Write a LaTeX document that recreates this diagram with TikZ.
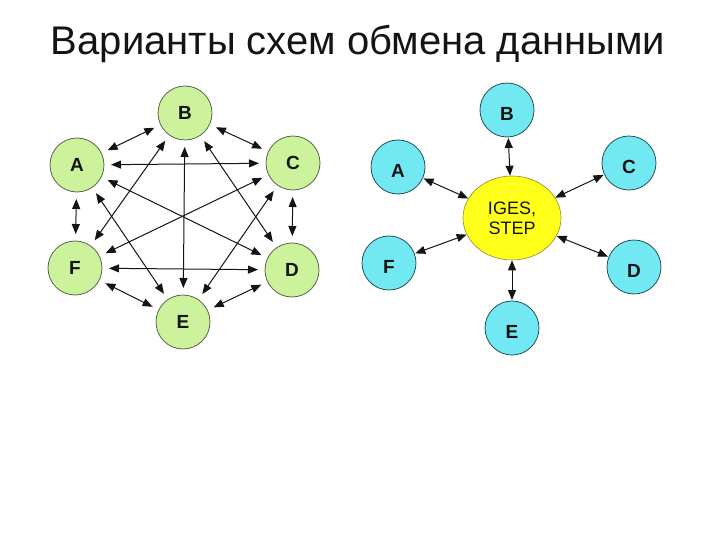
\documentclass[tikz,border=0pt]{standalone}
\usepackage{fontspec}
\setmainfont{Liberation Sans}
\usetikzlibrary{arrows.meta,shapes.geometric}
\definecolor{sxGreen}{HTML}{CCF29C}
\definecolor{sxGreenLine}{HTML}{56664A}
\definecolor{sxCyan}{HTML}{72E9F2}
\definecolor{sxCyanLine}{HTML}{24505A}
\definecolor{sxYellow}{HTML}{FFFF1A}
\definecolor{sxHubLine}{HTML}{8A8A30}
\definecolor{sxInk}{HTML}{141414}
\tikzset{
  sx diagram/.style={x=1pt, y=-1pt, text=sxInk,
    line cap=round, line join=round},
  sx title/.style={font=\fontsize{40}{44}\selectfont, anchor=base},
  sx station/.style={circle, minimum size=54pt, inner sep=0pt,
    line width=0.8pt, font=\bfseries\fontsize{19}{22}\selectfont},
  sx mesh/.style={sx station, draw=sxGreenLine, fill=sxGreen, outer sep=7pt},
  sx star/.style={sx station, draw=sxCyanLine, fill=sxCyan, outer sep=1pt,
    text height=21pt, text depth=0pt},
  sx hub/.style={ellipse, draw=sxHubLine, fill=sxYellow, line width=0.6pt,
    minimum width=98pt, minimum height=84pt, inner sep=0pt, align=center,
    font=\fontsize{18}{20}\selectfont},
  sx link/.style={{Triangle[length=10pt,width=8pt]}-{Triangle[length=10pt,width=8pt]},
    draw=sxInk, line width=1pt}
}
\begin{document}
\begin{tikzpicture}[sx diagram]
\useasboundingbox (0,0) rectangle (720,540);
\node[sx title] (title) at (358,55) {Варианты схем обмена данными};
% every station linked with every other one
\node[sx mesh] (mB) at (185,113) {B};
\node[sx mesh] (mA) at (77,165) {A};
\node[sx mesh] (mC) at (293,163) {C};
\node[sx mesh] (mF) at (75,268) {F};
\node[sx mesh] (mD) at (292,270) {D};
\node[sx mesh] (mE) at (183,322) {E};
\foreach \a/\b in {A/B,A/C,A/D,A/E,A/F,B/C,B/D,B/E,B/F,C/D,C/E,C/F,D/E,D/F,E/F}
  \draw[sx link] (m\a) -- (m\b);
% every station linked through the neutral format
\node[sx hub] (hub) at (512,218) {IGES,\\STEP};
\node[sx star] (sB) at (507,110) {B};
\node[sx star] (sA) at (398,167) {A};
\node[sx star] (sC) at (629,163) {C};
\node[sx star] (sF) at (389,263) {F};
\node[sx star] (sD) at (634,267) {D};
\node[sx star] (sE) at (512,328) {E};
\foreach \s in {A,B,C,D,E,F}
  \draw[sx link] (s\s) -- (hub);
\end{tikzpicture}
\end{document}
